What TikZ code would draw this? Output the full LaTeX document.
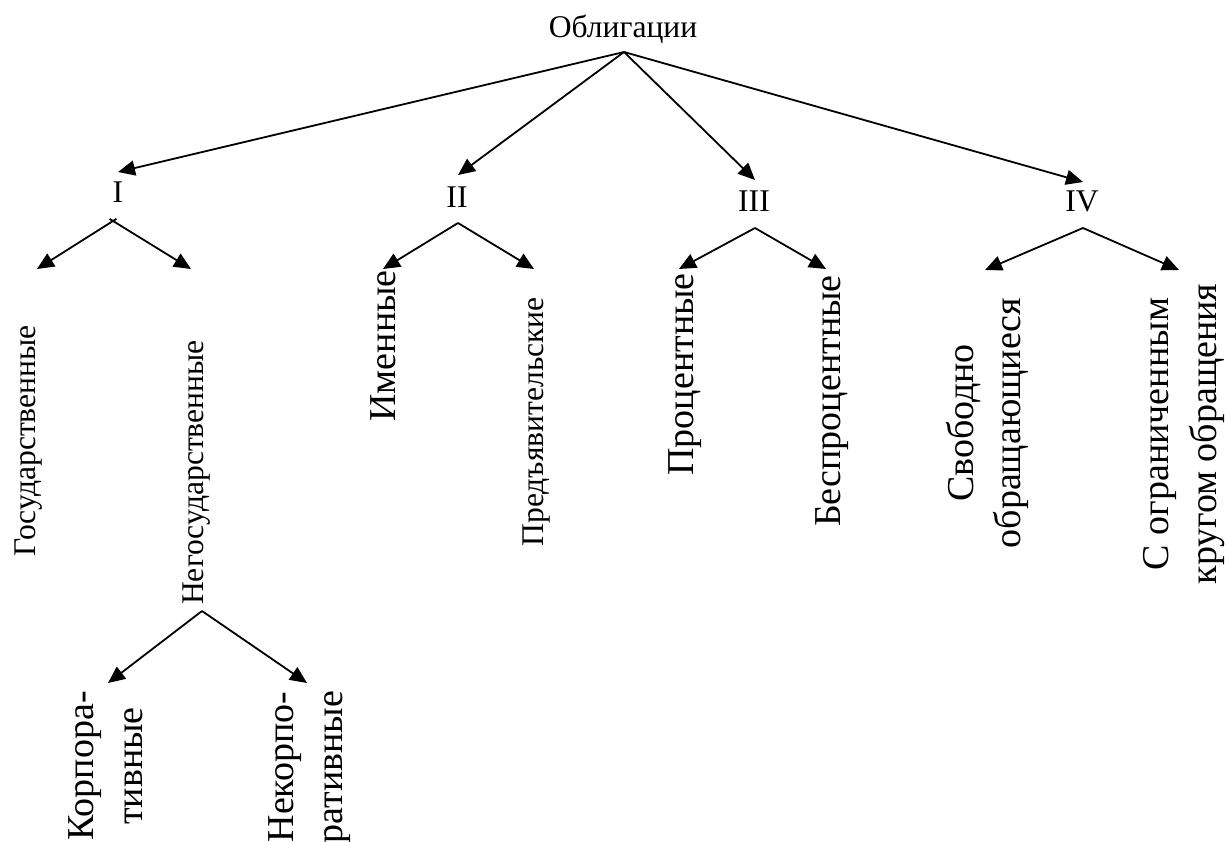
\documentclass[tikz,border=0pt]{standalone}
\usepackage{fontspec}
\setmainfont{Liberation Serif}
\usetikzlibrary{arrows.meta}
\begin{document}
\begin{tikzpicture}[x=1pt,y=-1pt,
  arr/.style={line width=1.8pt,-{Triangle[length=17pt,width=15pt]}},
  sm/.style={font=\fontsize{31.6}{38}\selectfont,inner sep=0pt},
  bg/.style={font=\fontsize{38}{46}\selectfont,inner sep=0pt},
  vt/.style={rotate=90,anchor=base east},
  vc/.style={rotate=90,anchor=base}]
\useasboundingbox (0,0) rectangle (1225,841);

% root
\node[sm,anchor=base] (obl) at (623,37) {Облигации};
\coordinate (o) at (624,52);

% level 1 labels
\node[sm,anchor=base] (n1) at (118,202) {I};
\node[sm,anchor=base] (n2) at (457,207) {II};
\node[sm,anchor=base] (n3) at (754,211) {III};
\node[sm,anchor=base] (n4) at (1082,211) {IV};

\coordinate (t1) at (118,172);
\coordinate (t2) at (458,175);
\coordinate (t3) at (755,180);
\coordinate (t4) at (1083,182);
\draw[arr] (o) -- (t1);
\draw[arr] (o) -- (t2);
\draw[arr] (o) -- (t3);
\draw[arr] (o) -- (t4);

% group I
\coordinate (a1l) at (116.5,218.8);
\coordinate (a1r) at (109.6,218.9);
\coordinate (g1l) at (37,269);
\coordinate (g1r) at (191,269);
\draw[arr] (a1l) -- (g1l);
\draw[arr] (a1r) -- (g1r);
\node[sm,vt] (gos) at (35,325) {Государственные};
\node[sm,vt] (negos) at (203,340) {Негосударственные};

% sub-group of Негосударственные
\coordinate (an) at (202,611);
\coordinate (gnl) at (108,683);
\coordinate (gnr) at (307,683);
\draw[arr] (an) -- (gnl);
\draw[arr] (an) -- (gnr);
\node[bg,vc] (korp1) at (93,766) {Корпора-};
\node[bg,vc] (korp2) at (142,766) {тивные};
\node[bg,vc] (nekorp1) at (293,767) {Некорпо-};
\node[bg,vc] (nekorp2) at (342,767) {ративные};

% group II
\coordinate (a2) at (458,223);
\coordinate (g2l) at (383,269);
\coordinate (g2r) at (534,269);
\draw[arr] (a2) -- (g2l);
\draw[arr] (a2) -- (g2r);
\node[bg,vt] (imen) at (395,270) {Именные};
\node[sm,vt] (pred) at (543,297) {Предъявительские};

% group III
\coordinate (a3) at (755,228);
\coordinate (g3l) at (679,269);
\coordinate (g3r) at (826,269);
\draw[arr] (a3) -- (g3l);
\draw[arr] (a3) -- (g3r);
\node[bg,vt] (proc) at (693,273) {Процентные};
\node[bg,vt] (besproc) at (840,275) {Беспроцентные};

% group IV
\coordinate (a4) at (1083,228);
\coordinate (g4l) at (985,270);
\coordinate (g4r) at (1179,270);
\draw[arr] (a4) -- (g4l);
\draw[arr] (a4) -- (g4r);
\node[bg,vc] (svob1) at (973,423) {Свободно};
\node[bg,vc] (svob2) at (1020,423) {обращающиеся};
\node[bg,vc] (ogr1) at (1168,434) {С ограниченным};
\node[bg,vc] (ogr2) at (1216,434) {кругом обращения};
\end{tikzpicture}
\end{document}
